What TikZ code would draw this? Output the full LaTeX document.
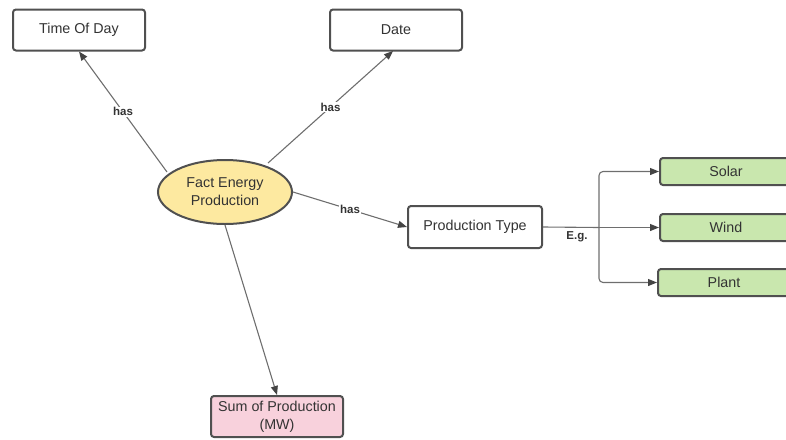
\documentclass[tikz,border=0pt]{standalone}
\usepackage{fontspec}
\setmainfont{Liberation Sans}
\usetikzlibrary{arrows.meta,shapes.geometric}
\definecolor{edgegray}{HTML}{6E6E6E}
\definecolor{tipgray}{HTML}{444444}
\definecolor{bordergray}{HTML}{505050}
\definecolor{textgray}{HTML}{333333}
\definecolor{factyellow}{HTML}{FDE9A0}
\definecolor{typegreen}{HTML}{C9E7AE}
\definecolor{measurepink}{HTML}{F8D1DC}
\tikzset{
  box/.style={draw=bordergray, line width=2pt, rounded corners=3pt, fill=white,
    minimum width=132pt, minimum height=41pt, inner sep=0pt, align=center,
    text=textgray, font=\fontsize{14.3}{18}\selectfont},
  smallbox/.style={box, minimum height=27pt, fill=typegreen},
  fact/.style={draw=bordergray, line width=2pt, ellipse, fill=factyellow,
    minimum width=134pt, minimum height=64pt, inner sep=0pt, align=center,
    text=textgray, font=\fontsize{14.3}{18}\selectfont},
  link/.style={draw=edgegray, line width=1.1pt,
    -{Triangle[length=9pt,width=7pt,color=tipgray]}},
  lbl/.style={fill=white, inner sep=1pt, text=textgray, font=\fontsize{11.5}{13}\selectfont\bfseries}
}
\begin{document}
\begin{tikzpicture}[x=1pt,y=-1pt]
\useasboundingbox (0,0) rectangle (786,439);

\node[box] (tod) at (79,30) {Time Of Day};
\node[box] (date) at (396,30) {Date};
\node[fact] (fact) at (225,192) {Fact Energy\\Production};
\node[box, minimum width=134pt, minimum height=42pt] (ptype) at (475,227) {Production Type};
\node[box, fill=measurepink] (sum) at (277,416.5) {Sum of Production\\(MW)};

\node[smallbox] (solar) at (726,171.5) {Solar};
\node[smallbox] (wind) at (726,227.5) {Wind};
\node[smallbox] (plant) at (724,282.5) {Plant};

% fact table relations
\draw[link] (167,172) -- node[lbl, pos=0.5] {has} (tod.south);
\draw[link] (268,163) -- node[lbl, pos=0.5] {has} (393,51);
\draw[link] (fact.east) -- node[lbl, pos=0.5] {has} (ptype.west);
\draw[link] (fact.south) -- (sum.north);

% production type examples
\coordinate (split) at (599,227.5);
\draw[draw=edgegray, line width=1.1pt] (ptype.east) -- (split);
\node[lbl, fill=none] at (577,237) {E.g.};
\draw[link] (split) -- (wind.west);
\draw[link, rounded corners=4pt] (split) |- (solar.west);
\draw[link, rounded corners=4pt] (split) |- (plant.west);
\end{tikzpicture}
\end{document}
